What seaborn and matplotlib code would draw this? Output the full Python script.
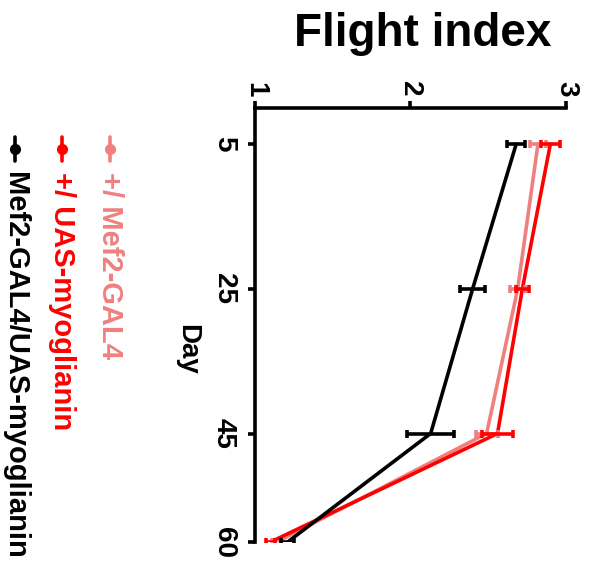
import numpy as np
import pandas as pd
import matplotlib
matplotlib.use('Agg')
import matplotlib.pyplot as plt
import seaborn as sns
from matplotlib.lines import Line2D

days = [5, 25, 45, 60]
genotypes = ['+/ Mef2-GAL4', '+/ UAS-myoglianin', 'Mef2-GAL4/UAS-myoglianin']
colors = ['#f08080', '#ff0000', '#000000']
mef2_mean = [2.82, 2.69, 2.49, 1.14]
mef2_err = [0.05, 0.05, 0.07, 0.03]
uas_mean = [2.90, 2.72, 2.56, 1.10]
uas_err = [0.06, 0.04, 0.10, 0.03]
cross_mean = [2.68, 2.40, 2.13, 1.21]
cross_err = [0.06, 0.08, 0.15, 0.04]

sns.set_style('ticks')
plt.rcParams['font.family'] = ['Liberation Sans', 'DejaVu Sans']
plt.rcParams.update({'axes.edgecolor': 'black', 'xtick.color': 'black',
                     'ytick.color': 'black', 'text.color': 'black'})

df = pd.DataFrame({
    'Day': days * 3,
    'Flight index': mef2_mean + uas_mean + cross_mean,
    'err': mef2_err + uas_err + cross_err,
    'Genotype': [g for g in genotypes for _ in days],
})

fig = plt.figure(figsize=(5.95, 5.64), dpi=100)
ax = fig.add_axes([0.4286, 0.039, 0.5225, 0.7695])

sns.lineplot(data=df, x='Flight index', y='Day', hue='Genotype', palette=colors,
             hue_order=genotypes, orient='y', sort=False, linewidth=2.6,
             legend=False, ax=ax)
for g, c in zip(genotypes, colors):
    sub = df[df['Genotype'] == g]
    ax.errorbar(sub['Flight index'], sub['Day'], xerr=sub['err'], fmt='none',
                ecolor=c, elinewidth=2.6, capsize=3, capthick=2.6)

ax.set_xlim(1, 3)
ax.set_ylim(60, 0)
ax.set_xticks([1, 2, 3])
ax.set_yticks(days)
ax.xaxis.tick_top()
for s in ['right', 'bottom']:
    ax.spines[s].set_visible(False)
for s in ['left', 'top']:
    ax.spines[s].set_linewidth(2.6)
ax.tick_params(width=2.6, length=5, labelsize=20, pad=3)
ax.tick_params(axis='y', pad=8)
for lab in ax.get_xticklabels() + ax.get_yticklabels():
    lab.set_rotation(-90)
    lab.set_fontweight('bold')
for lab in ax.get_xticklabels():
    lab.set_va('bottom')
    lab.set_ha('center')
for lab in ax.get_yticklabels():
    lab.set_va('center')
    lab.set_ha('right')
ax.set_xlabel('')
ax.set_ylabel('')

fig.text(0.71, 0.94, 'Flight index', fontsize=33, fontweight='bold',
         ha='center', va='center')
fig.text(0.315, 0.38, 'Day', fontsize=20, fontweight='bold', rotation=-90,
         ha='center', va='center')

# hand-made legend, rotated like the rest of the figure
leg_x = [0.185, 0.104, 0.026]
for g, c, lx in zip(genotypes, colors, leg_x):
    fig.add_artist(Line2D([lx, lx, lx], [0.715, 0.736, 0.757], color=c, lw=2.6,
                          marker='o', markersize=7, markevery=[1],
                          transform=fig.transFigure))
    fig.text(lx, 0.695, g, color=c, fontsize=21, fontweight='bold',
             rotation=-90, ha='center', va='top')

fig.savefig('out.png', dpi=100)
